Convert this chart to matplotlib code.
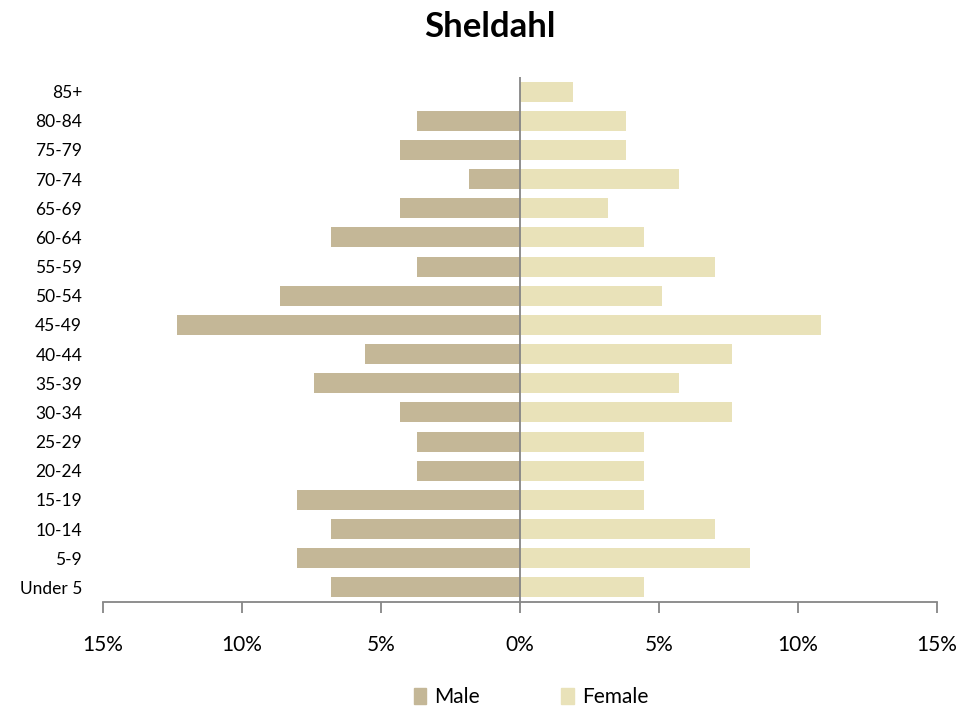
import numpy as np
import matplotlib
matplotlib.use("Agg")
import matplotlib.pyplot as plt
import matplotlib.ticker as mticker
from matplotlib.patches import Patch

plt.rcParams["font.family"] = ["Lato", "DejaVu Sans"]

# ── Data (percent of each sex, bottom to top) ────────────────────────────────
AGE_GROUPS = ["Under 5", "5-9", "10-14", "15-19", "20-24", "25-29", "30-34",
              "35-39", "40-44", "45-49", "50-54", "55-59", "60-64", "65-69",
              "70-74", "75-79", "80-84", "85+"]
MALE   = [6.79, 8.02, 6.79, 8.02, 3.70, 3.70, 4.32, 7.41, 5.56, 12.35,
          8.64, 3.70, 6.79, 4.32, 1.85, 4.32, 3.70, 0.0]
FEMALE = [4.46, 8.28, 7.01, 4.46, 4.46, 4.46, 7.64, 5.73, 7.64, 10.83,
          5.10, 7.01, 4.46, 3.18, 5.73, 3.82, 3.82, 1.91]
TICKS  = [-15, -10, -5, 0, 5, 10, 15]

MALE_C   = "#C4B797"
FEMALE_C = "#E9E2B9"
AXIS_C   = "#868686"

fig = plt.figure(figsize=(9.79, 7.13), dpi=100)
ax = fig.add_axes([103 / 979, 1 - 602 / 713, (937 - 103) / 979, (602 - 77) / 713])

y = np.arange(len(AGE_GROUPS))
ax.barh(y, [-m for m in MALE], height=0.69, color=MALE_C, label="Male")
ax.barh(y, FEMALE, height=0.69, color=FEMALE_C, label="Female")
ax.axvline(0, color=AXIS_C, linewidth=1.3)

ax.set_xlim(-15, 15)
ax.set_ylim(-0.5, len(AGE_GROUPS) - 0.5)
ax.set_xticks(TICKS)
ax.xaxis.set_major_formatter(mticker.FuncFormatter(lambda v, _: f"{abs(v):.0f}%"))
ax.set_yticks(y)
ax.set_yticklabels(AGE_GROUPS)

for side in ["top", "right", "left"]:
    ax.spines[side].set_visible(False)
ax.spines["bottom"].set_color(AXIS_C)
ax.spines["bottom"].set_linewidth(1.3)
ax.tick_params(axis="x", colors=AXIS_C, length=8, width=1.3, labelsize=15,
               labelcolor="black", pad=16)
ax.tick_params(axis="y", length=0, labelsize=12.5, pad=15)

fig.suptitle("Sheldahl", fontsize=25, fontweight="bold", y=1 - 27 / 713,
             va="center")

handles = [Patch(color=MALE_C, label="Male"), Patch(color=FEMALE_C, label="Female")]
fig.legend(handles=handles, loc="center", bbox_to_anchor=(531 / 979, 1 - 697 / 713),
           ncol=2, frameon=False, fontsize=15, handlelength=0.6, handleheight=0.8,
           handletextpad=0.4, columnspacing=3.9)

fig.savefig("out.png", dpi=100)
